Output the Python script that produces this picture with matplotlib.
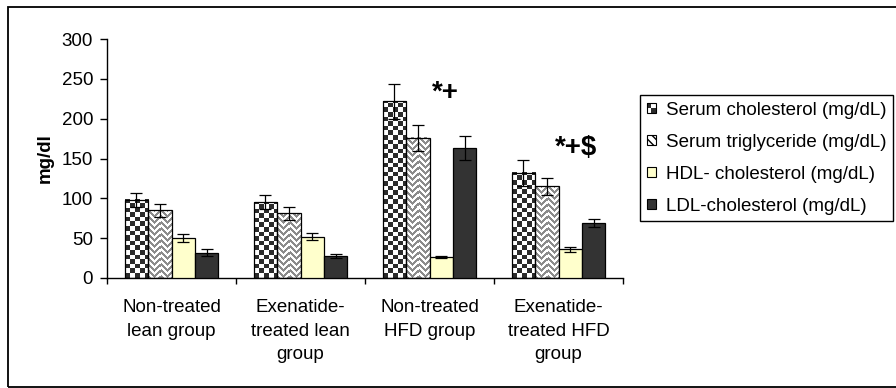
import numpy as np
import matplotlib
matplotlib.use("Agg")
import matplotlib.pyplot as plt
from matplotlib.patches import Rectangle, Patch
from matplotlib.legend_handler import HandlerBase

plt.rcParams["font.family"] = ["Liberation Sans", "DejaVu Sans"]

# ---------- data ----------
groups = ["Non-treated\nlean group", "Exenatide-\ntreated lean\ngroup",
          "Non-treated\nHFD group", "Exenatide-\ntreated HFD\ngroup"]
series = ["Serum cholesterol (mg/dL)", "Serum triglyceride (mg/dL)",
          "HDL- cholesterol (mg/dL)", "LDL-cholesterol (mg/dL)"]
cholesterol = [98, 95, 222, 132]
cholesterol_err = [9, 9, 22, 16]
triglyceride = [85, 81, 176, 115]
triglyceride_err = [8, 8, 16, 11]
hdl = [50, 52, 26, 36]
hdl_err = [5, 4, 1.5, 3]
ldl = [32, 28, 163, 69]
ldl_err = [4, 2.5, 15, 5]
y_ticks = [0, 50, 100, 150, 200, 250, 300]
marks = ["*+", "*+$"]

FS = 13.5

# ---------- palette ----------
DARK = np.array([0.17, 0.17, 0.17])
GRAY = np.array([0.55, 0.55, 0.55])
WHITE = np.array([1.0, 1.0, 1.0])
HDL_FILL = "#ffffcc"
LDL_FILL = "#333333"


def checker(nx, ny, s=4.6):
    i = np.arange(ny)[:, None]
    j = np.arange(nx)[None, :]
    m = (np.floor(i / s) + np.floor(j / s)) % 2 == 0
    return np.where(m[..., None], DARK, WHITE)


def zigzag(nx, ny, p=6):
    i = np.arange(ny)[:, None]
    j = np.arange(nx)[None, :]
    band = (j // p) % 2
    d = np.where(band == 0, (i + j) % p, (i - j) % p)
    return np.where((d < p // 2)[..., None], GRAY, WHITE)


class CheckerHandler(HandlerBase):
    def create_artists(self, legend, orig_handle, xdescent, ydescent,
                       width, height, fontsize, trans):
        x0, y0 = -xdescent, -ydescent
        hw, hh = width / 2, height / 2
        arts = []
        for k, (dx, dy) in enumerate([(0, hh), (hw, hh), (0, 0), (hw, 0)]):
            fc = "#2b2b2b" if k in (0, 3) else "white"
            arts.append(Rectangle((x0 + dx, y0 + dy), hw, hh, facecolor=fc,
                                  edgecolor="none", transform=trans))
        arts.append(Rectangle((x0, y0), width, height, facecolor="none",
                              edgecolor="black", linewidth=0.8, transform=trans))
        return arts


fig = plt.figure(figsize=(8.96, 3.88), dpi=100)
ax = fig.add_axes([107 / 896, 110 / 388, 516 / 896, 239 / 388])

x = np.arange(len(groups))
bw = 0.182
values = [cholesterol, triglyceride, hdl, ldl]
errors = [cholesterol_err, triglyceride_err, hdl_err, ldl_err]
fills = ["none", "none", HDL_FILL, LDL_FILL]
containers = []
for k in range(4):
    bc = ax.bar(x + (k - 1.5) * bw, values[k], bw, facecolor=fills[k],
                edgecolor="black", linewidth=0.9, zorder=3)
    ax.errorbar(x + (k - 1.5) * bw, values[k], yerr=errors[k], fmt="none",
                ecolor="black", elinewidth=0.9, capsize=4.3, capthick=0.9, zorder=4)
    containers.append(bc)

ax.set_xlim(-0.5, len(groups) - 0.5)
ax.set_ylim(0, 300)

# patterned fills for the two serum series
for bc, tex in [(containers[0], checker), (containers[1], zigzag)]:
    for rect in bc:
        x0, w, h = rect.get_x(), rect.get_width(), rect.get_height()
        p0 = ax.transData.transform((x0, 0))
        p1 = ax.transData.transform((x0 + w, h))
        nx, ny = int(round(p1[0] - p0[0])), int(round(p1[1] - p0[1]))
        ax.imshow(tex(nx, ny), extent=(x0, x0 + w, 0, h), origin="lower",
                  interpolation="nearest", aspect="auto", zorder=2)
ax.set_xlim(-0.5, len(groups) - 0.5)
ax.set_ylim(0, 300)

# significance marks
ax.text(2.12, 232, marks[0], fontsize=20, fontweight="bold", ha="center", va="center")
ax.text(3.136, 163, marks[1], fontsize=20, fontweight="bold", ha="center", va="center")

# ---------- axes styling ----------
for s in ("top", "right"):
    ax.spines[s].set_visible(False)
for s in ("left", "bottom"):
    ax.spines[s].set_linewidth(1.0)
ax.set_yticks(y_ticks)
ax.tick_params(axis="y", direction="out", length=5, width=1.0, labelsize=FS, pad=5)
ax.set_xticks(np.arange(len(groups) + 1) - 0.5)
ax.set_xticklabels([])
ax.set_xticks(x, minor=True)
ax.set_xticklabels(groups, minor=True)
ax.tick_params(axis="x", which="major", direction="out", length=4.5, width=1.0)
ax.tick_params(axis="x", which="minor", length=0, labelsize=FS, pad=15)
for t in ax.get_xticklabels(minor=True):
    t.set_linespacing(1.52)
ax.set_ylabel("mg/dl", fontsize=FS, fontweight="bold", labelpad=6)

# ---------- legend ----------
handles = [Patch(), Patch(facecolor="white", edgecolor="black", hatch="\\\\\\\\", linewidth=0.8),
           Patch(facecolor=HDL_FILL, edgecolor="black", linewidth=0.8),
           Patch(facecolor=LDL_FILL, edgecolor="black", linewidth=0.8)]
leg = fig.legend(handles, series, loc="upper left",
                 bbox_to_anchor=(640 / 896, 1 - 95 / 388), bbox_transform=fig.transFigure,
                 fontsize=FS, frameon=True, fancybox=False, framealpha=1,
                 edgecolor="black", borderpad=0.35, labelspacing=0.8,
                 handlelength=0.5, handleheight=0.5, handletextpad=0.55,
                 borderaxespad=0, handler_map={handles[0]: CheckerHandler()})
leg.get_frame().set_linewidth(1.0)

# outer frame, running off the right edge
fig.patches.append(Rectangle((8 / 896, 1.5 / 388), 1.2, 379.5 / 388, transform=fig.transFigure,
                             facecolor="none", edgecolor="black", linewidth=1.3))

fig.savefig("out.png", dpi=100)
